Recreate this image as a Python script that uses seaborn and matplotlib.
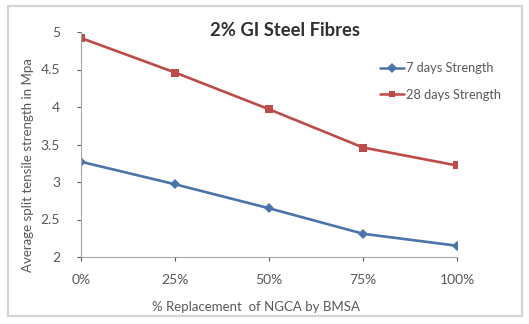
import matplotlib
matplotlib.use("Agg")
import matplotlib.pyplot as plt
from matplotlib.patches import Rectangle
from matplotlib.lines import Line2D
import seaborn as sns
import pandas as pd

categories = ["0%", "25%", "50%", "75%", "100%"]
strength_7 = [3.27, 2.97, 2.65, 2.31, 2.15]
strength_28 = [4.92, 4.46, 3.97, 3.46, 3.22]
series_names = ["7 days Strength", "28 days Strength"]
y_ticks = [2, 2.5, 3, 3.5, 4, 4.5, 5]
y_tick_labels = ["2", "2.5", "3", "3.5", "4", "4.5", "5"]

df = pd.DataFrame({
    "pos": list(range(len(categories))) * 2,
    "value": strength_7 + strength_28,
    "series": [series_names[0]] * len(categories) + [series_names[1]] * len(categories),
})

sns.set_theme(style="white")
plt.rcParams["font.family"] = ["Lato", "DejaVu Sans"]

text_col = "#595959"
axis_col = "#a6a6a6"
palette = {series_names[0]: "#4a74aa", series_names[1]: "#be4b48"}
markers = {series_names[0]: "D", series_names[1]: "s"}

fig = plt.figure(figsize=(5.29, 3.24), dpi=100)
fig.patch.set_facecolor("white")
# chart area frame
fig.patches.append(Rectangle((8 / 529, 1 - 316 / 324), 514 / 529, 310 / 324,
                             transform=fig.transFigure, fill=False,
                             edgecolor="#d4d4d4", linewidth=1.6, zorder=0))

ax = fig.add_axes([81 / 529, 1 - 257 / 324, 376 / 529, 225 / 324])
sns.lineplot(data=df, x="pos", y="value", hue="series", style="series",
             palette=palette, markers=markers, dashes=False, markersize=5.5,
             markeredgewidth=0, linewidth=1.9, ax=ax, legend=False)

ax.set_xlim(0, 4)
ax.set_ylim(2, 5)
ax.set_xticks(range(len(categories)))
ax.set_xticklabels(categories)
ax.set_yticks(y_ticks)
ax.set_yticklabels(y_tick_labels)
ax.tick_params(axis="both", colors=text_col, labelsize=10, length=3, width=0.8,
               direction="out", bottom=True, left=True)
ax.tick_params(axis="x", pad=9)
ax.tick_params(axis="y", pad=12)
for lab in ax.get_xticklabels() + ax.get_yticklabels():
    lab.set_color(text_col)
for side in ["top", "right"]:
    ax.spines[side].set_visible(False)
for side in ["left", "bottom"]:
    ax.spines[side].set_color(axis_col)
    ax.spines[side].set_linewidth(0.8)
ax.set_xlabel("")
ax.set_ylabel("")
ax.patch.set_alpha(0)

fig.text(256 / 529, 1 - 307 / 324, "% Replacement  of NGCA by BMSA", ha="center", va="center",
         fontsize=9.5, color=text_col)
fig.text(28 / 529, 1 - 165 / 324, "Average split tensile strength in Mpa", ha="center",
         va="center", rotation=90, fontsize=9.5, color=text_col)
fig.text(285 / 529, 1 - 30 / 324, "2% GI Steel Fibres", ha="center", va="center",
         fontsize=13.2, fontweight="bold", color="#303030")

# legend
handles = [Line2D([], [], color=palette[s], marker=markers[s], markersize=5,
                  markeredgewidth=0, linewidth=1.8) for s in series_names]
fig.legend(handles, series_names, loc="center left", bbox_to_anchor=(368 / 529, 1 - 81.5 / 324),
           frameon=False, fontsize=9.2, labelcolor=text_col, handlelength=1.9,
           handletextpad=0.15, labelspacing=1.15)

fig.savefig("out.png", dpi=100, facecolor="white")
